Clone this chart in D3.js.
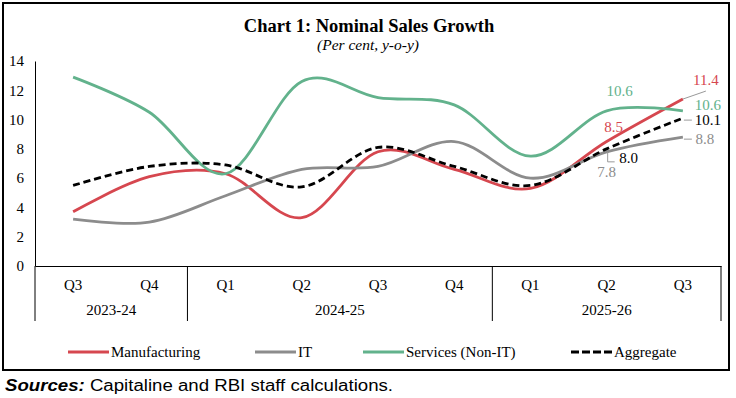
<!DOCTYPE html>
<html>
<head>
<meta charset="utf-8">
<script src="https://cdn.jsdelivr.net/npm/d3@7"></script>
<style>
  body { margin: 0; background: #fff; }
  svg text { font-family: "Liberation Serif", "Times New Roman", serif; }
</style>
</head>
<body>
<div id="chart"></div>
<script>
// quarters along the axis, grouped by fiscal year
const quarters = ['Q3', 'Q4', 'Q1', 'Q2', 'Q3', 'Q4', 'Q1', 'Q2', 'Q3'];
const years = ['2023-24', '2024-25', '2025-26'];
const yearSpans = [2, 4, 3];
const yTicks = [0, 2, 4, 6, 8, 10, 12, 14];

const manufacturing = [3.7, 6.1, 6.3, 3.3, 7.8, 6.6, 5.3, 8.5, 11.4];
const itSector = [3.2, 3.0, 4.8, 6.6, 6.8, 8.5, 6.0, 7.8, 8.8];
const services = [12.9, 10.5, 6.3, 12.6, 11.5, 11.0, 7.5, 10.6, 10.6];
const aggregate = [5.5, 6.8, 6.9, 5.4, 8.1, 6.8, 5.5, 8.0, 10.1];

const W = 736, H = 398;
const svg = d3.select('#chart').append('svg')
    .attr('width', W)
    .attr('height', H);

// frame
svg.append('rect')
    .attr('x', 3).attr('y', 3)
    .attr('width', 726).attr('height', 367)
    .attr('fill', 'none')
    .attr('stroke', '#000')
    .attr('stroke-width', 2);

svg.append('text')
    .attr('x', 369).attr('y', 32)
    .attr('text-anchor', 'middle')
    .attr('font-size', 18.5)
    .attr('font-weight', 'bold')
    .text('Chart 1: Nominal Sales Growth');

svg.append('text')
    .attr('x', 368).attr('y', 50)
    .attr('text-anchor', 'middle')
    .attr('font-size', 15.5)
    .attr('font-style', 'italic')
    .text('(Per cent, y-o-y)');

const x = d3.scaleBand()
    .domain(d3.range(quarters.length))
    .range([35, 721]);
const y = d3.scaleLinear().domain([0, 14]).range([266, 61]);
const cx = i => x(i) + x.bandwidth() / 2;

// y axis
const yAxis = svg.append('g')
    .attr('transform', 'translate(35,0)')
    .call(d3.axisLeft(y).tickValues(yTicks).tickSize(0).tickPadding(11));
yAxis.select('.domain').attr('stroke', '#000');
yAxis.selectAll('text')
    .attr('font-family', '"Liberation Serif", serif')
    .attr('font-size', 15)
    .attr('fill', '#000');

// x axis with quarter labels
const xAxis = svg.append('g')
    .attr('transform', 'translate(0,266)')
    .call(d3.axisBottom(x).tickFormat(i => quarters[i]).tickSize(0).tickPadding(13));
xAxis.select('.domain').attr('stroke', '#000');
xAxis.selectAll('text')
    .attr('font-family', '"Liberation Serif", serif')
    .attr('font-size', 15)
    .attr('fill', '#000');

// year groups and separators
let start = 0;
const bounds = [0];
years.forEach((yr, k) => {
    const end = start + yearSpans[k];
    const x0 = x(start), x1 = x(end - 1) + x.bandwidth();
    svg.append('text')
        .attr('x', (x0 + x1) / 2).attr('y', 315)
        .attr('text-anchor', 'middle')
        .attr('font-size', 15)
        .text(yr);
    bounds.push(end);
    start = end;
});
svg.selectAll('.sep')
    .data(bounds)
    .enter().append('line')
    .attr('class', 'sep')
    .attr('x1', b => b < quarters.length ? x(b) : x(b - 1) + x.bandwidth())
    .attr('x2', b => b < quarters.length ? x(b) : x(b - 1) + x.bandwidth())
    .attr('y1', 266).attr('y2', 321)
    .attr('stroke', '#000')
    .attr('stroke-width', 1);

const series = [
    { name: 'Manufacturing', values: manufacturing, color: '#d6474f', dash: null },
    { name: 'IT', values: itSector, color: '#8c8c8c', dash: null },
    { name: 'Services (Non-IT)', values: services, color: '#62b28c', dash: null },
    { name: 'Aggregate', values: aggregate, color: '#000', dash: '7,4' },
];

const line = d3.line()
    .x((d, i) => cx(i))
    .y(d => y(d))
    .curve(d3.curveCardinal.tension(0));

svg.selectAll('.series')
    .data(series)
    .enter().append('path')
    .attr('class', 'series')
    .attr('d', s => line(s.values))
    .attr('fill', 'none')
    .attr('stroke', s => s.color)
    .attr('stroke-width', 2.8)
    .attr('stroke-dasharray', s => s.dash);

// data labels with leader lines
const last = quarters.length - 1, prev = quarters.length - 2;
const leader = '#999';
function label(txt, px, py, color) {
    svg.append('text')
        .attr('x', px).attr('y', py)
        .attr('text-anchor', 'middle')
        .attr('font-size', 15)
        .attr('fill', color)
        .text(txt);
}
function seg(pts) {
    svg.append('path')
        .attr('d', d3.line()(pts))
        .attr('fill', 'none')
        .attr('stroke', leader)
        .attr('stroke-width', 1);
}

// Manufacturing
seg([[cx(last), y(manufacturing[last])], [cx(last) + 23, y(manufacturing[last]) - 8]]);
label(manufacturing[last].toFixed(1), cx(last) + 23, y(manufacturing[last]) - 14, '#d6474f');
label(manufacturing[prev].toFixed(1), cx(prev) + 7, y(manufacturing[prev]) - 10, '#d6474f');
// Services
label(services[prev].toFixed(1), cx(prev) + 13, y(services[prev]) - 15, '#62b28c');
label(services[last].toFixed(1), cx(last) + 25, y(services[last]) - 1, '#62b28c');
// Aggregate
seg([[cx(last) + 1, y(aggregate[last]) + 2], [cx(last) + 9, y(aggregate[last]) + 2]]);
label(aggregate[last].toFixed(1), cx(last) + 25, y(aggregate[last]) + 7, '#000');
seg([[cx(prev) + 1, y(aggregate[prev]) + 3], [cx(prev) + 1, y(aggregate[prev]) + 13], [cx(prev) + 8, y(aggregate[prev]) + 13]]);
label(aggregate[prev].toFixed(1), cx(prev) + 22, y(aggregate[prev]) + 14, '#000');
// IT
seg([[cx(last) + 1, y(itSector[last]) + 2], [cx(last) + 9, y(itSector[last]) + 2]]);
label(itSector[last].toFixed(1), cx(last) + 22, y(itSector[last]) + 7, '#8c8c8c');
label(itSector[prev].toFixed(1), cx(prev), y(itSector[prev]) + 25, '#8c8c8c');

// legend
const legendX = [68, 255, 363, 571];
const lg = svg.selectAll('.legend')
    .data(series)
    .enter().append('g')
    .attr('class', 'legend')
    .attr('transform', (s, i) => `translate(${legendX[i]},352)`);
lg.append('line')
    .attr('x1', 0).attr('x2', 41)
    .attr('y1', 0).attr('y2', 0)
    .attr('stroke', s => s.color)
    .attr('stroke-width', 3)
    .attr('stroke-dasharray', s => s.dash ? '8,3' : null);
lg.append('text')
    .attr('x', 43).attr('y', 5)
    .attr('font-size', 15)
    .text(s => s.name);

// sources line
const src = svg.append('text')
    .attr('x', 5).attr('y', 391)
    .attr('font-size', 16)
    .attr('textLength', 388)
    .attr('lengthAdjust', 'spacingAndGlyphs')
    .style('font-family', '"Liberation Sans", Arial, sans-serif');
src.append('tspan')
    .attr('font-weight', 'bold')
    .attr('font-style', 'italic')
    .text('Sources:');
src.append('tspan').text(' Capitaline and RBI staff calculations.');
</script>
</body>
</html>
